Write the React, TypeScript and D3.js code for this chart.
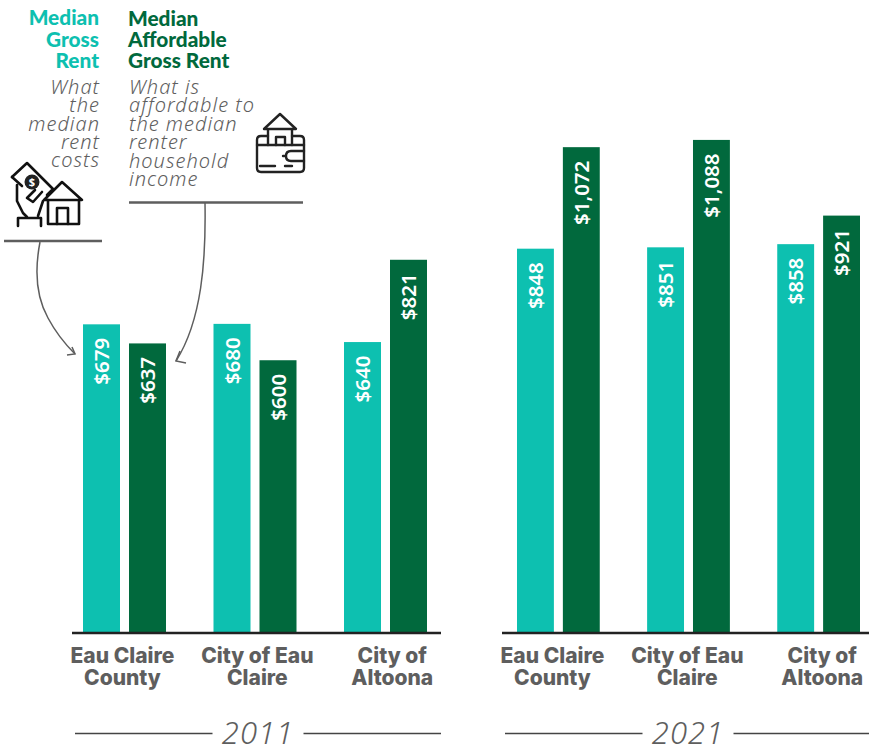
import React from "react";
import * as d3 from "d3";

const categories = ["Eau Claire County", "City of Eau Claire", "City of Altoona"];
const categoryLines = [["Eau Claire", "County"], ["City of Eau", "Claire"], ["City of", "Altoona"]];
const seriesNames = ["Median Gross Rent", "Median Affordable Gross Rent"];
const years = ["2011", "2021"];
const gross2011 = [679, 680, 640];
const affordable2011 = [637, 600, 821];
const gross2021 = [848, 851, 858];
const affordable2021 = [1072, 1088, 921];

const TEAL = "#0dc0b0";
const GREEN = "#01693d";
const GREY = "#5e5e5e";
const SANS = "'Noto Sans', sans-serif";
const HEAD = "Lato, 'Noto Sans', sans-serif";
const LABEL = "Inter, Roboto, sans-serif";

const fmt = (v: number) => "$" + d3.format(",")(v);

function Panel({ year, gross, afford, x0, x1, ax0, ax1, k }: any) {
  const y = d3.scaleLinear().domain([0, 1000]).range([633, 633 - k * 1000]);
  const band = d3.scaleBand<string>().domain(categories).range([x0, x1]).paddingInner(47.5 / 130.5);
  const inner = d3.scaleBand<string>().domain(seriesNames).range([0, band.bandwidth()]).paddingInner(9 / 46);
  const labelAxis = d3.scaleBand<string>().domain(categories).range([ax0 - 17, ax1 + 18.7]);
  const mid = (ax0 + ax1) / 2;
  return (
    <g>
      {categories.map((c, i) => (
        <g key={c}>
          {[gross[i], afford[i]].map((v: number, j: number) => {
            const bx = band(c)! + inner(seriesNames[j])!;
            return (
              <g key={j}>
                <rect x={bx} y={y(v)} width={inner.bandwidth()} height={y(0) - y(v)} fill={j ? GREEN : TEAL} />
                <text
                  transform={`translate(${bx + inner.bandwidth() / 2 + 7.5},${y(v) + 13.5}) rotate(-90)`}
                  textAnchor="end"
                  fill="#fff"
                  fontFamily={SANS}
                  fontWeight={600}
                  fontSize={20.5}
                >
                  {fmt(v)}
                </text>
              </g>
            );
          })}
          {categoryLines[i].map((t, k2) => (
            <text
              key={t}
              x={labelAxis(c)! + labelAxis.bandwidth() / 2}
              y={663 + k2 * 22.3}
              textAnchor="middle"
              fill={GREY}
              fontFamily={LABEL}
              fontWeight={800}
              fontSize={21}
            >
              {t}
            </text>
          ))}
        </g>
      ))}
      <line x1={ax0} x2={ax1} y1={633} y2={633} stroke="#222" strokeWidth={2.4} />
      <line x1={ax0 + 3} x2={mid - 44} y1={733.5} y2={733.5} stroke="#444" strokeWidth={1.5} />
      <line x1={mid + 47} x2={ax1} y1={733.5} y2={733.5} stroke="#444" strokeWidth={1.5} />
      <text x={mid + 1.5} y={744} textAnchor="middle" fill={GREY} fontFamily={SANS} fontStyle="italic" fontWeight={300} fontSize={31} letterSpacing={1}>
        {year}
      </text>
    </g>
  );
}

function Lines({ lines, x, y0, step, anchor, ...rest }: any) {
  return (
    <text textAnchor={anchor} {...rest}>
      {lines.map((t: string, i: number) => (
        <tspan key={t} x={x} y={y0 + i * step}>{t}</tspan>
      ))}
    </text>
  );
}

export default function App() {
  return (
    <svg width={869} height={750} style={{ position: "absolute", left: 0, top: 0 }}>
      <Panel year={years[0]} gross={gross2011} afford={affordable2011} x0={83} x1={427} ax0={72} ax1={441} k={0.4546} />
      <Panel year={years[1]} gross={gross2021} afford={affordable2021} x0={517} x1={860} ax0={502} ax1={871} k={0.4532} />

      <Lines lines={["Median", "Gross", "Rent"]} x={99} y0={25} step={21.5} anchor="end" fill={TEAL} fontFamily={HEAD} fontWeight={900} fontSize={20.8} />
      <Lines lines={["Median", "Affordable", "Gross Rent"]} x={128} y0={26} step={21.2} anchor="start" fill={GREEN} fontFamily={HEAD} fontWeight={900} fontSize={20.8} />
      <Lines lines={["What", "the", "median", "rent", "costs"]} x={100} y0={94} step={18.3} anchor="end" fill={GREY} fontFamily={SANS} fontStyle="italic" fontWeight={300} fontSize={20} letterSpacing={1} />
      <Lines lines={["What is", "affordable to", "the median", "renter", "household", "income"]} x={129} y0={94} step={18.4} anchor="start" fill={GREY} fontFamily={SANS} fontStyle="italic" fontWeight={300} fontSize={20} letterSpacing={1} />

      <line x1={4} x2={102} y1={241} y2={241} stroke={GREY} strokeWidth={2.4} />
      <line x1={129} x2={303} y1={202.5} y2={202.5} stroke={GREY} strokeWidth={2.4} />

      <g fill="none" stroke={GREY} strokeWidth={1.5}>
        <path d="M40 242C35 268 35 295 48 318C56 333 66 345 75 354" />
        <path d="M67 355L75 354L72 347" />
        <path d="M205 203C206 260 202 320 176 361" />
        <path d="M180 351L176 361L186 363" />
      </g>

      <g fill="none" stroke="#111" strokeWidth={2.6} strokeLinejoin="round" strokeLinecap="round">
        <path d="M12 177L27 163L53 189L47 195" />
        <path d="M12 177L22 186" />
        <path d="M17 185V201L23 213L27 217" />
        <path d="M35 190L27 198L33 202L42 192" />
        <path d="M43 201L38 216" />
        <path d="M18 226V218H41V226" />
        <path d="M44 200L62 182L82 200Z" />
        <path d="M48 200V224H79V200" />
        <path d="M57 224V208H68V224" />
      </g>
      <circle cx={32} cy={182} r={7.5} fill="#222" />
      <text x={32} y={186} textAnchor="middle" fill="#fff" fontSize={11} fontWeight={700} fontFamily={SANS}>$</text>

      <g fill="none" stroke="#222" strokeWidth={2.4} strokeLinejoin="round" strokeLinecap="round">
        <path d="M264 129L280 114L296 129Z" />
        <path d="M268 130V145M292 130V145" />
        <path d="M276 145V137H285V145" />
        <path d="M268 136H261Q257 136 257 140V168Q257 172 261 172H300Q304 172 304 168V140Q304 136 300 136H292" />
        <path d="M257 145H304" />
        <path d="M304 151H291Q286 151 286 156Q286 161 291 161H304" />
        <path d="M283 156H285" />
        <path d="M260 166H275M285 166H292" />
      </g>
    </svg>
  );
}
